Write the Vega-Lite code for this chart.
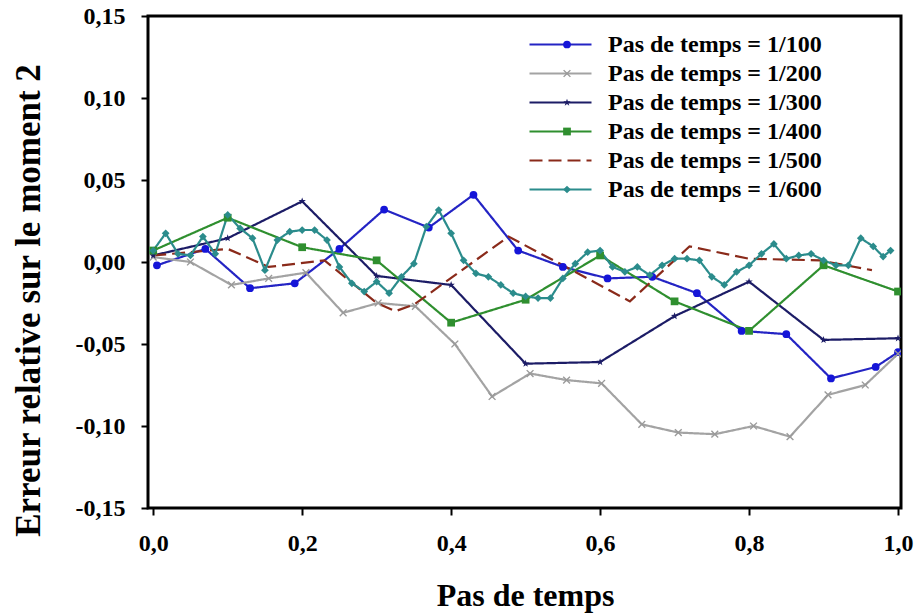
{
"$schema": "https://vega.github.io/schema/vega-lite/v6.json",
"width": 753, "height": 492,
"autosize": {"type": "none"},
"padding": {"left": 148, "top": 16, "right": 19, "bottom": 106},
"background": "white",
"config": {
  "view": {"stroke": "black", "strokeWidth": 3},
  "font": "Liberation Serif",
  "legend": {"labelFont": "Liberation Serif"},
  "axis": {"grid": false, "domain": false, "tickColor": "black", "tickWidth": 2, "tickSize": 7,
    "labelFont": "Liberation Serif", "labelFontWeight": "bold", "labelFontSize": 24, "labelColor": "black",
    "labelFlush": false, "labelOverlap": false, "labelBound": false,
    "titleFont": "Liberation Serif", "titleFontWeight": "bold", "titleColor": "black"}
},
"datasets": {"d": [
{"s":"Pas de temps = 1/100","x":0.005,"y":-0.002},{"s":"Pas de temps = 1/100","x":0.07,"y":0.008},{"s":"Pas de temps = 1/100","x":0.13,"y":-0.016},{"s":"Pas de temps = 1/100","x":0.19,"y":-0.013},{"s":"Pas de temps = 1/100","x":0.25,"y":0.008},{"s":"Pas de temps = 1/100","x":0.31,"y":0.032},{"s":"Pas de temps = 1/100","x":0.37,"y":0.021},{"s":"Pas de temps = 1/100","x":0.43,"y":0.041},{"s":"Pas de temps = 1/100","x":0.49,"y":0.007},{"s":"Pas de temps = 1/100","x":0.55,"y":-0.003},{"s":"Pas de temps = 1/100","x":0.61,"y":-0.010},{"s":"Pas de temps = 1/100","x":0.67,"y":-0.009},{"s":"Pas de temps = 1/100","x":0.73,"y":-0.019},{"s":"Pas de temps = 1/100","x":0.79,"y":-0.042},{"s":"Pas de temps = 1/100","x":0.85,"y":-0.044},{"s":"Pas de temps = 1/100","x":0.91,"y":-0.071},{"s":"Pas de temps = 1/100","x":0.97,"y":-0.064},{"s":"Pas de temps = 1/100","x":1.0,"y":-0.055},
{"s":"Pas de temps = 1/200","x":0.0,"y":0.003},{"s":"Pas de temps = 1/200","x":0.05,"y":0.0},{"s":"Pas de temps = 1/200","x":0.105,"y":-0.014},{"s":"Pas de temps = 1/200","x":0.155,"y":-0.010},{"s":"Pas de temps = 1/200","x":0.205,"y":-0.0065},{"s":"Pas de temps = 1/200","x":0.255,"y":-0.031},{"s":"Pas de temps = 1/200","x":0.302,"y":-0.025},{"s":"Pas de temps = 1/200","x":0.352,"y":-0.027},{"s":"Pas de temps = 1/200","x":0.405,"y":-0.050},{"s":"Pas de temps = 1/200","x":0.455,"y":-0.082},{"s":"Pas de temps = 1/200","x":0.506,"y":-0.068},{"s":"Pas de temps = 1/200","x":0.555,"y":-0.072},{"s":"Pas de temps = 1/200","x":0.602,"y":-0.074},{"s":"Pas de temps = 1/200","x":0.656,"y":-0.099},{"s":"Pas de temps = 1/200","x":0.705,"y":-0.104},{"s":"Pas de temps = 1/200","x":0.754,"y":-0.105},{"s":"Pas de temps = 1/200","x":0.806,"y":-0.100},{"s":"Pas de temps = 1/200","x":0.855,"y":-0.1065},{"s":"Pas de temps = 1/200","x":0.906,"y":-0.081},{"s":"Pas de temps = 1/200","x":0.956,"y":-0.075},{"s":"Pas de temps = 1/200","x":1.0,"y":-0.056},
{"s":"Pas de temps = 1/300","x":0.0,"y":0.004},{"s":"Pas de temps = 1/300","x":0.1,"y":0.0145},{"s":"Pas de temps = 1/300","x":0.2,"y":0.037},{"s":"Pas de temps = 1/300","x":0.3,"y":-0.0085},{"s":"Pas de temps = 1/300","x":0.4,"y":-0.014},{"s":"Pas de temps = 1/300","x":0.5,"y":-0.062},{"s":"Pas de temps = 1/300","x":0.6,"y":-0.061},{"s":"Pas de temps = 1/300","x":0.7,"y":-0.033},{"s":"Pas de temps = 1/300","x":0.8,"y":-0.012},{"s":"Pas de temps = 1/300","x":0.9,"y":-0.0475},{"s":"Pas de temps = 1/300","x":1.0,"y":-0.0465},
{"s":"Pas de temps = 1/400","x":0.0,"y":0.007},{"s":"Pas de temps = 1/400","x":0.1,"y":0.027},{"s":"Pas de temps = 1/400","x":0.2,"y":0.009},{"s":"Pas de temps = 1/400","x":0.3,"y":0.001},{"s":"Pas de temps = 1/400","x":0.4,"y":-0.037},{"s":"Pas de temps = 1/400","x":0.5,"y":-0.023},{"s":"Pas de temps = 1/400","x":0.6,"y":0.004},{"s":"Pas de temps = 1/400","x":0.7,"y":-0.024},{"s":"Pas de temps = 1/400","x":0.8,"y":-0.042},{"s":"Pas de temps = 1/400","x":0.9,"y":-0.002},{"s":"Pas de temps = 1/400","x":1.0,"y":-0.018},
{"s":"Pas de temps = 1/500","x":0.0,"y":0.004},{"s":"Pas de temps = 1/500","x":0.05,"y":0.006},{"s":"Pas de temps = 1/500","x":0.1,"y":0.008},{"s":"Pas de temps = 1/500","x":0.155,"y":-0.003},{"s":"Pas de temps = 1/500","x":0.23,"y":0.001},{"s":"Pas de temps = 1/500","x":0.30,"y":-0.025},{"s":"Pas de temps = 1/500","x":0.325,"y":-0.030},{"s":"Pas de temps = 1/500","x":0.35,"y":-0.026},{"s":"Pas de temps = 1/500","x":0.39,"y":-0.013},{"s":"Pas de temps = 1/500","x":0.477,"y":0.0155},{"s":"Pas de temps = 1/500","x":0.55,"y":-0.002},{"s":"Pas de temps = 1/500","x":0.64,"y":-0.024},{"s":"Pas de temps = 1/500","x":0.72,"y":0.0095},{"s":"Pas de temps = 1/500","x":0.80,"y":0.002},{"s":"Pas de temps = 1/500","x":0.895,"y":0.001},{"s":"Pas de temps = 1/500","x":0.965,"y":-0.005},
{"s":"Pas de temps = 1/600","x":0.0,"y":0.007},{"s":"Pas de temps = 1/600","x":0.0167,"y":0.0175},{"s":"Pas de temps = 1/600","x":0.0333,"y":0.005},{"s":"Pas de temps = 1/600","x":0.05,"y":0.004},{"s":"Pas de temps = 1/600","x":0.0667,"y":0.0155},{"s":"Pas de temps = 1/600","x":0.0833,"y":0.005},{"s":"Pas de temps = 1/600","x":0.1,"y":0.0287},{"s":"Pas de temps = 1/600","x":0.1167,"y":0.0205},{"s":"Pas de temps = 1/600","x":0.1333,"y":0.0145},{"s":"Pas de temps = 1/600","x":0.15,"y":-0.005},{"s":"Pas de temps = 1/600","x":0.1667,"y":0.0134},{"s":"Pas de temps = 1/600","x":0.1833,"y":0.0185},{"s":"Pas de temps = 1/600","x":0.2,"y":0.0195},{"s":"Pas de temps = 1/600","x":0.2167,"y":0.0195},{"s":"Pas de temps = 1/600","x":0.2333,"y":0.0134},{"s":"Pas de temps = 1/600","x":0.25,"y":-0.003},{"s":"Pas de temps = 1/600","x":0.2667,"y":-0.013},{"s":"Pas de temps = 1/600","x":0.2833,"y":-0.018},{"s":"Pas de temps = 1/600","x":0.3,"y":-0.012},{"s":"Pas de temps = 1/600","x":0.3167,"y":-0.019},{"s":"Pas de temps = 1/600","x":0.3333,"y":-0.009},{"s":"Pas de temps = 1/600","x":0.35,"y":-0.001},{"s":"Pas de temps = 1/600","x":0.3667,"y":0.0215},{"s":"Pas de temps = 1/600","x":0.3833,"y":0.0317},{"s":"Pas de temps = 1/600","x":0.4,"y":0.0175},{"s":"Pas de temps = 1/600","x":0.4167,"y":0.001},{"s":"Pas de temps = 1/600","x":0.4333,"y":-0.007},{"s":"Pas de temps = 1/600","x":0.45,"y":-0.009},{"s":"Pas de temps = 1/600","x":0.4667,"y":-0.014},{"s":"Pas de temps = 1/600","x":0.4833,"y":-0.019},{"s":"Pas de temps = 1/600","x":0.5,"y":-0.021},{"s":"Pas de temps = 1/600","x":0.5167,"y":-0.022},{"s":"Pas de temps = 1/600","x":0.5333,"y":-0.022},{"s":"Pas de temps = 1/600","x":0.55,"y":-0.010},{"s":"Pas de temps = 1/600","x":0.5667,"y":-0.001},{"s":"Pas de temps = 1/600","x":0.5833,"y":0.006},{"s":"Pas de temps = 1/600","x":0.6,"y":0.007},{"s":"Pas de temps = 1/600","x":0.6167,"y":-0.003},{"s":"Pas de temps = 1/600","x":0.6333,"y":-0.006},{"s":"Pas de temps = 1/600","x":0.65,"y":-0.003},{"s":"Pas de temps = 1/600","x":0.6667,"y":-0.008},{"s":"Pas de temps = 1/600","x":0.6833,"y":-0.002},{"s":"Pas de temps = 1/600","x":0.7,"y":0.002},{"s":"Pas de temps = 1/600","x":0.7167,"y":0.002},{"s":"Pas de temps = 1/600","x":0.7333,"y":0.001},{"s":"Pas de temps = 1/600","x":0.75,"y":-0.009},{"s":"Pas de temps = 1/600","x":0.7667,"y":-0.014},{"s":"Pas de temps = 1/600","x":0.7833,"y":-0.006},{"s":"Pas de temps = 1/600","x":0.8,"y":-0.002},{"s":"Pas de temps = 1/600","x":0.8167,"y":0.005},{"s":"Pas de temps = 1/600","x":0.8333,"y":0.011},{"s":"Pas de temps = 1/600","x":0.85,"y":0.002},{"s":"Pas de temps = 1/600","x":0.8667,"y":0.004},{"s":"Pas de temps = 1/600","x":0.8833,"y":0.005},{"s":"Pas de temps = 1/600","x":0.9,"y":0.001},{"s":"Pas de temps = 1/600","x":0.9167,"y":-0.002},{"s":"Pas de temps = 1/600","x":0.9333,"y":-0.002},{"s":"Pas de temps = 1/600","x":0.95,"y":0.0145},{"s":"Pas de temps = 1/600","x":0.9667,"y":0.0095},{"s":"Pas de temps = 1/600","x":0.98,"y":0.0033},{"s":"Pas de temps = 1/600","x":0.99,"y":0.007}
]},
"data": {"name": "d"},
"encoding": {
  "x": {"field": "x", "type": "quantitative",
    "scale": {"domain": [-0.007, 1.004], "nice": false, "zero": false},
    "axis": {"values": [0, 0.2, 0.4, 0.6, 0.8, 1.0],
      "labelExpr": "replace(format(datum.value, '.1f'), '.', ',')",
      "labelPadding": 16,
      "title": "Pas de temps", "titleFontSize": 32, "titleX": 377, "titleY": 87, "titleBaseline": "middle", "titleAlign": "center"}},
  "y": {"field": "y", "type": "quantitative",
    "scale": {"domain": [-0.15, 0.15], "nice": false, "zero": false},
    "axis": {"values": [-0.15, -0.1, -0.05, 0, 0.05, 0.1, 0.15],
      "labelExpr": "replace(replace(format(datum.value, '.2f'), '.', ','), '\u2212', '-')",
      "labelPadding": 16,
      "title": "Erreur relative sur le moment 2", "titleFontSize": 35, "titleAngle": 270,
      "titleX": -120, "titleY": 284, "titleAlign": "center", "titleBaseline": "middle"}}
},
"layer": [
  {"mark": {"type": "line", "clip": true},
   "encoding": {
     "stroke": {"field": "s", "type": "nominal",
       "scale": {"domain": ["Pas de temps = 1/100","Pas de temps = 1/200","Pas de temps = 1/300","Pas de temps = 1/400","Pas de temps = 1/500","Pas de temps = 1/600"],
                 "range": ["#2424c4","#a3a3a3","#1c1c66","#2f8f2f","#8a2a1a","#2b8c8c"]},
       "legend": {"orient": "none", "legendX": 380, "legendY": 14, "title": null,
         "symbolType": "stroke", "symbolSize": 3844, "symbolStrokeWidth": 2.5,
         "labelFont": "Liberation Serif", "labelFontWeight": "bold", "labelFontSize": 24, "labelColor": "black",
         "clipHeight": 29, "rowPadding": 0, "labelOffset": 15, "padding": 0, "labelLimit": 400}},
     "strokeDash": {"field": "s", "type": "nominal",
       "scale": {"domain": ["Pas de temps = 1/100","Pas de temps = 1/200","Pas de temps = 1/300","Pas de temps = 1/400","Pas de temps = 1/500","Pas de temps = 1/600"],
                 "range": [[1,0],[1,0],[1,0],[1,0],[13,6],[1,0]]}},
     "strokeWidth": {"field": "s", "type": "nominal", "legend": null,
       "scale": {"domain": ["Pas de temps = 1/100","Pas de temps = 1/200","Pas de temps = 1/300","Pas de temps = 1/400","Pas de temps = 1/500","Pas de temps = 1/600"],
                 "range": [2.2, 2.2, 2.2, 2.2, 3, 2.2]}}
   }},
  {"mark": {"type": "point", "filled": true, "opacity": 1, "size": 60, "clip": true},
   "encoding": {
     "fill": {"field": "s", "type": "nominal",
       "scale": {"range": ["#1515d8","#9a9a9a","#1c1c66","#2f8f2f","#8a2a1a","#2b8c8c"]},
       "legend": {"orient": "none", "legendX": 407, "legendY": 14, "title": null,
         "symbolSize": 60, "symbolStrokeWidth": 0, "labelExpr": "''",
         "labelFont": "Liberation Serif", "labelFontSize": 24, "clipHeight": 29, "rowPadding": 0, "padding": 0}},
     "shape": {"field": "s", "type": "nominal",
       "scale": {"range": ["circle",
         "M-1,-0.75L-0.75,-1L0,-0.25L0.75,-1L1,-0.75L0.25,0L1,0.75L0.75,1L0,0.25L-0.75,1L-1,0.75L-0.25,0Z",
         "M0,-1L0.235,-0.324L0.951,-0.309L0.38,0.124L0.588,0.809L0,0.4L-0.588,0.809L-0.38,0.124L-0.951,-0.309L-0.235,-0.324Z",
         "square", "M0,0", "diamond"]}}
   }}
]
}
